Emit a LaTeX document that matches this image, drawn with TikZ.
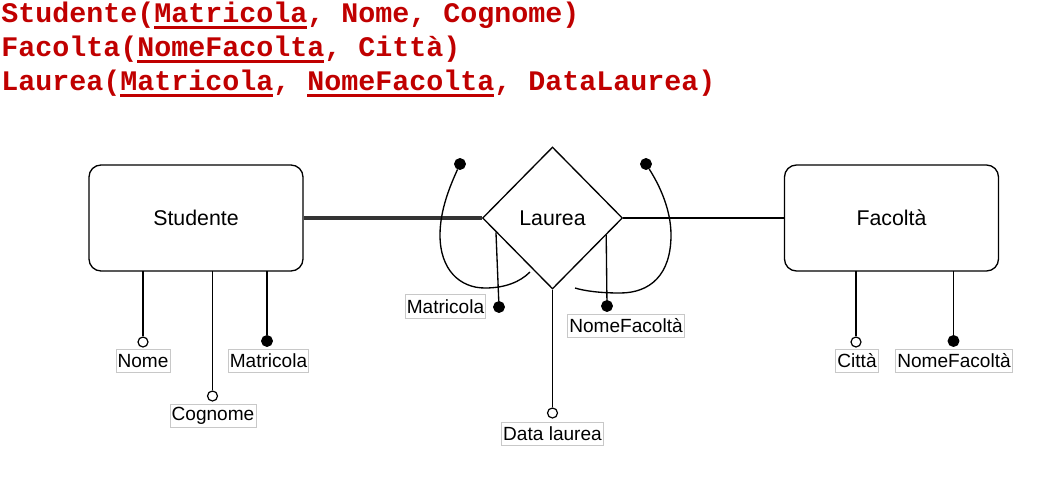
\documentclass[tikz,border=0pt]{standalone}
\usepackage{fontspec}
\setmainfont{Liberation Sans}
\newfontfamily\codefont{Liberation Mono}
\usetikzlibrary{shapes.geometric,calc}
\definecolor{keyred}{HTML}{C00000}
\definecolor{lblgray}{HTML}{C8C8C8}
\newcommand\ukey[1]{\setbox0\hbox{#1}\rlap{\rule[-5pt]{\wd0}{1.9pt}}\box0}
\begin{document}
\begin{tikzpicture}[x=0.75pt,y=-0.75pt,
  entity/.style={draw,line width=1pt,rounded corners=9pt,minimum width=160.5pt,minimum height=79.5pt,font=\fontsize{16}{19}\selectfont},
  relship/.style={draw,diamond,line width=1pt,inner sep=0pt,minimum width=105pt,minimum height=106.5pt,font=\fontsize{16}{19}\selectfont},
  attr/.style={draw=lblgray,line width=0.6pt,inner xsep=1.2pt,inner ysep=0pt,minimum height=17.5pt,font=\fontsize{14.3}{17}\selectfont},
  odot/.style={circle,draw,fill=white,line width=0.9pt,inner sep=0pt,minimum size=7.5pt},
  fdot/.style={circle,draw,fill=black,line width=0.9pt,inner sep=0pt,minimum size=8pt},
  link/.style={line width=1pt},
  strong/.style={line width=2.6pt,draw=black!80},
  code/.style={anchor=base west,inner sep=0pt,text=keyred,font=\codefont\bfseries\fontsize{21.25}{25}\selectfont}
]
\useasboundingbox (0,0) rectangle (1042,482);

% relational schema
\node[code] (t1) at (1,22) {Studente(\ukey{Matricola}, Nome, Cognome)};
\node[code] (t2) at (1,56) {Facolta(\ukey{NomeFacolta}, Città)};
\node[code] (t3) at (1,90) {Laurea(\ukey{Matricola}, \ukey{NomeFacolta}, DataLaurea)};

% entities and relationship
\node[entity] (stu) at (196,218) {Studente};
\node[entity] (fac) at (891.5,218) {Facoltà};
\node[relship] (lau) at (552.5,218) {Laurea};

\draw[strong] (stu.east) -- (lau.west);
\draw[link] (lau.east) -- (fac.west);

% Studente attributes
\node[odot] (d-nome) at (143,342) {};
\node[attr] (l-nome) at (143,361) {Nome};
\draw[link] (143,271) -- (d-nome);
\node[odot] (d-cogn) at (212.5,396) {};
\node[attr] (l-cogn) at (213,416) {Cognome};
\draw[link] (212.5,271) -- (d-cogn);
\node[fdot] (d-matr) at (267,341) {};
\node[attr] (l-matr) at (268.5,361) {Matricola};
\draw[link] (267,271) -- (d-matr);

% Facolta attributes
\node[odot] (d-citta) at (856,342) {};
\node[attr] (l-citta) at (857,361) {Città};
\draw[link] (856,271) -- (d-citta);
\node[fdot] (d-nfac) at (953.5,341) {};
\node[attr] (l-nfac) at (954,361) {NomeFacoltà};
\draw[link] (953.5,271) -- (d-nfac);

% Laurea attributes
\node[odot] (d-data) at (552.5,413) {};
\node[attr] (l-data) at (552.5,434) {Data laurea};
\draw[link] (lau.south) -- (d-data);

\coordinate (e-lm) at ($(lau.west)!0.2!(lau.south)$);
\node[fdot] (d-lm) at (499,307) {};
\node[attr] (l-lm) at (445.5,306.5) {Matricola};
\draw[link] (e-lm) -- (d-lm);

\coordinate (e-lf) at ($(lau.east)!0.24!(lau.south)$);
\node[fdot] (d-lf) at (607,306) {};
\node[attr] (l-lf) at (626,326) {NomeFacoltà};
\draw[link] (e-lf) -- (d-lf);

% composite identifier arcs
\node[fdot] (k-left) at (460,164) {};
\coordinate (k-left-end) at (530,272);
\draw[link] (k-left) .. controls (450,186) and (440,210) .. (440,235)
  .. controls (440,270) and (460,288) .. (485,288)
  .. controls (505,288) and (520,282) .. (k-left-end);

\node[fdot] (k-right) at (646,164) {};
\coordinate (k-right-end) at (575,288);
\draw[link] (k-right) .. controls (660,186) and (671,210) .. (671,235)
  .. controls (671,275) and (650,293) .. (620,293)
  .. controls (600,293) and (585,291) .. (k-right-end);
\end{tikzpicture}
\end{document}
